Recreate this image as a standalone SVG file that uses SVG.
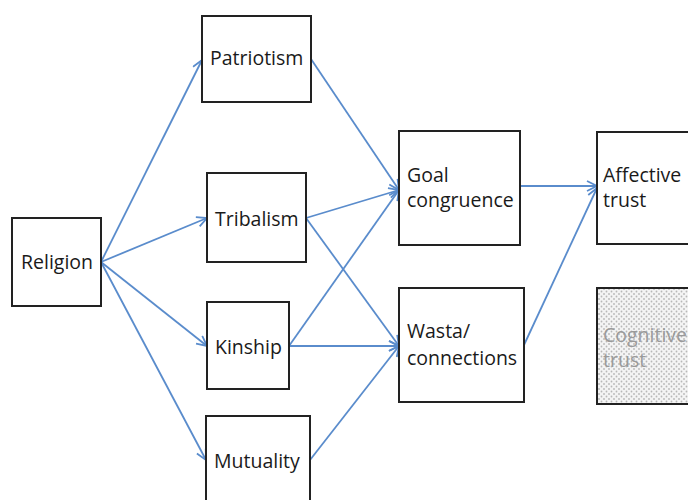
<svg xmlns="http://www.w3.org/2000/svg" width="688" height="500" viewBox="0 0 688 500">
<defs>
<marker id="arr" viewBox="0 0 12 12" refX="11" refY="6" markerWidth="12" markerHeight="12" markerUnits="userSpaceOnUse" orient="auto">
<path d="M1,1 L11,6 L1,11" fill="none" stroke="#5a8ccc" stroke-width="1.8"/>
</marker>
<pattern id="dots" width="5" height="5" patternUnits="userSpaceOnUse">
<rect width="5" height="5" fill="#f4f4f4"/>
<circle cx="1.5" cy="1.5" r="0.9" fill="#b8b8b8"/>
<circle cx="4" cy="4" r="0.9" fill="#b8b8b8"/>
</pattern>
</defs>
<style>
.box{fill:#fff;stroke:#222;stroke-width:2}
.lbl{font-family:"Open Sans","Liberation Sans",sans-serif;font-size:19.5px;fill:#1a1a1a}
.gray{fill:#9a9a9a}
.c{fill:none;stroke:#5a8ccc;stroke-width:1.8;marker-end:url(#arr)}
</style>
<rect width="688" height="500" fill="#fff"/>
<g id="connectors">
<line class="c" x1="101" y1="262" x2="202" y2="60"/>
<line class="c" x1="101" y1="262" x2="207" y2="218"/>
<line class="c" x1="101" y1="262" x2="207" y2="346"/>
<line class="c" x1="101" y1="262" x2="206" y2="460"/>
<line class="c" x1="311" y1="59" x2="399" y2="190"/>
<line class="c" x1="306" y1="218" x2="399" y2="190"/>
<line class="c" x1="289" y1="346" x2="399" y2="190"/>
<line class="c" x1="306" y1="218" x2="399" y2="346"/>
<line class="c" x1="289" y1="346" x2="399" y2="346"/>
<line class="c" x1="310" y1="460" x2="399" y2="346"/>
<line class="c" x1="520" y1="186" x2="597" y2="186"/>
<line class="c" x1="524" y1="345" x2="597" y2="188"/>
</g>
<g id="religion"><rect class="box" x="12" y="218" width="89" height="88"/><text class="lbl" x="21" y="269">Religion</text></g>
<g id="patriotism"><rect class="box" x="202" y="16" width="109" height="86"/><text class="lbl" x="210" y="65">Patriotism</text></g>
<g id="tribalism"><rect class="box" x="207" y="173" width="99" height="89"/><text class="lbl" x="215" y="226">Tribalism</text></g>
<g id="kinship"><rect class="box" x="207" y="302" width="82" height="87"/><text class="lbl" x="215" y="354">Kinship</text></g>
<g id="mutuality"><rect class="box" x="206" y="416" width="104" height="100"/><text class="lbl" x="214" y="468">Mutuality</text></g>
<g id="goal"><rect class="box" x="399" y="131" width="121" height="114"/><text class="lbl" x="407" y="182">Goal</text><text class="lbl" x="407" y="207">congruence</text></g>
<g id="wasta"><rect class="box" x="399" y="288" width="125" height="114"/><text class="lbl" x="407" y="338">Wasta/</text><text class="lbl" x="407" y="365">connections</text></g>
<g id="affective"><rect class="box" x="597" y="132" width="110" height="112"/><text class="lbl" x="603" y="182">Affective</text><text class="lbl" x="603" y="207">trust</text></g>
<g id="cognitive"><rect class="box" x="597" y="288" width="110" height="116" style="fill:url(#dots)"/><text class="lbl gray" x="603" y="342">Cognitive</text><text class="lbl gray" x="603" y="367">trust</text></g>
</svg>
